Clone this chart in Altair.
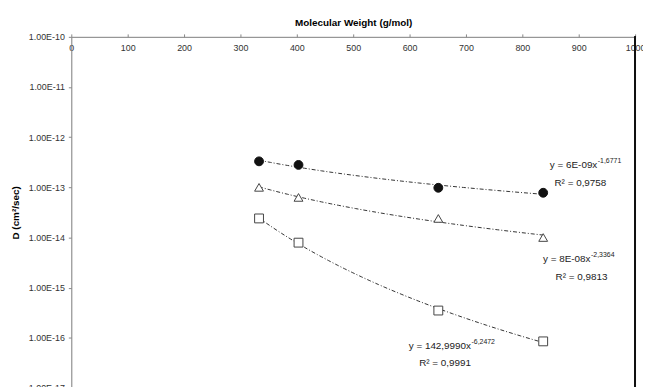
import altair as alt
import pandas as pd

# ---- data ----
mw = [333, 403, 651, 837]
d_circle = [3.3e-13, 2.8e-13, 9.8e-14, 7.8e-14]
d_triangle = [1.0e-13, 6.3e-14, 2.4e-14, 1.0e-14]
d_square = [2.4e-14, 7.9e-15, 3.5e-16, 8.5e-17]
series = ["circle", "triangle", "square"]

x_ticks = [0, 100, 200, 300, 400, 500, 600, 700, 800, 900, 1000]
y_ticks = [1e-10, 1e-11, 1e-12, 1e-13, 1e-14, 1e-15, 1e-16, 1e-17]

eq_main = ["y = 6E-09x", "y = 8E-08x", "y = 142,9990x"]
eq_sup = ["-1,6771", "-2,3364", "-6,2472"]
r2_text = ["R² = 0,9758", "R² = 0,9813", "R² = 0,9991"]
eq_x = [933, 921, 709]
eq_y = [2.73e-13, 3.65e-15, 7.0e-17]
r2_x = [903, 905, 663]
r2_y = [1.2e-13, 1.61e-15, 3.1e-17]

rows = []
for s, vals in zip(series, [d_circle, d_triangle, d_square]):
    for m, v in zip(mw, vals):
        rows.append({"series": s, "mw": m, "D": v})
df = pd.DataFrame(rows)

ann = pd.DataFrame({"series": series, "main": eq_main, "sup": eq_sup,
                    "ex": eq_x, "ey": eq_y, "r2": r2_text, "rx": r2_x, "ry": r2_y})

FONT = "Liberation Sans"

xscale = alt.Scale(domain=[0, 1000], nice=False, zero=False)
yscale = alt.Scale(type="log", domain=[1e-17, 1e-10], nice=False)

xaxis = alt.Axis(orient="top", values=x_ticks, format="d", title="Molecular Weight (g/mol)",
                 grid=False, tickSize=3, labelPadding=-19, labelFontSize=9,
                 labelColor="#333", tickColor="#888", domainColor="#888",
                 titleFontSize=10, titleFontWeight="bold", titlePadding=6,
                 labelFont=FONT, titleFont=FONT, labelFlush=False)
yaxis = alt.Axis(values=y_ticks, title="D (cm²/sec)", grid=False, tickSize=3,
                 labelPadding=4, labelFontSize=9, labelColor="#333",
                 tickColor="#888", domainColor="#888",
                 labelExpr="'1.00E-' + format(-log(datum.value)/LN10, '.0f')",
                 titleFontSize=10, titleFontWeight="bold", titlePadding=8,
                 labelFont=FONT, titleFont=FONT)

base = alt.Chart(df)

lines = base.transform_regression(
    "mw", "D", method="pow", groupby=["series"]
).mark_line(color="#333", strokeWidth=1, strokeDash=[4, 2, 1, 2]).encode(
    x=alt.X("mw:Q", scale=xscale, axis=xaxis),
    y=alt.Y("D:Q", scale=yscale, axis=yaxis),
    detail="series:N",
)

points = base.mark_point(size=80, strokeWidth=1, opacity=1).encode(
    x=alt.X("mw:Q", scale=xscale),
    y=alt.Y("D:Q", scale=yscale),
    shape=alt.Shape("series:N", scale=alt.Scale(domain=series, range=["circle", "triangle-up", "square"]), legend=None),
    fill=alt.Fill("series:N", scale=alt.Scale(domain=series, range=["#111", "white", "white"]), legend=None),
    stroke=alt.Stroke("series:N", scale=alt.Scale(domain=series, range=["#111", "#444", "#444"]), legend=None),
)

abase = alt.Chart(ann)
main_txt = abase.mark_text(align="right", baseline="middle", fontSize=10, font=FONT, color="#222").encode(
    x=alt.X("ex:Q", scale=xscale), y=alt.Y("ey:Q", scale=yscale), text="main:N")
sup_txt = abase.mark_text(align="left", baseline="middle", fontSize=7, dy=-4, dx=0.5, font=FONT, color="#222").encode(
    x=alt.X("ex:Q", scale=xscale), y=alt.Y("ey:Q", scale=yscale), text="sup:N")
r2_txt = abase.mark_text(align="center", baseline="middle", fontSize=10, font=FONT, color="#222").encode(
    x=alt.X("rx:Q", scale=xscale), y=alt.Y("ry:Q", scale=yscale), text="r2:N")

border = alt.Chart(df).mark_rule(color="#111", strokeWidth=1.5).encode(x=alt.datum(1000))

chart = alt.layer(lines, points, main_txt, sup_txt, r2_txt, border).properties(
    width=570, height=355,
    autosize=alt.AutoSizeParams(type="none"),
    padding={"left": 64, "top": 27, "right": 8, "bottom": 14},
).configure_view(stroke=None).configure(background="white")

chart.save("out.html", embed_options={"renderer": "svg", "actions": False})
